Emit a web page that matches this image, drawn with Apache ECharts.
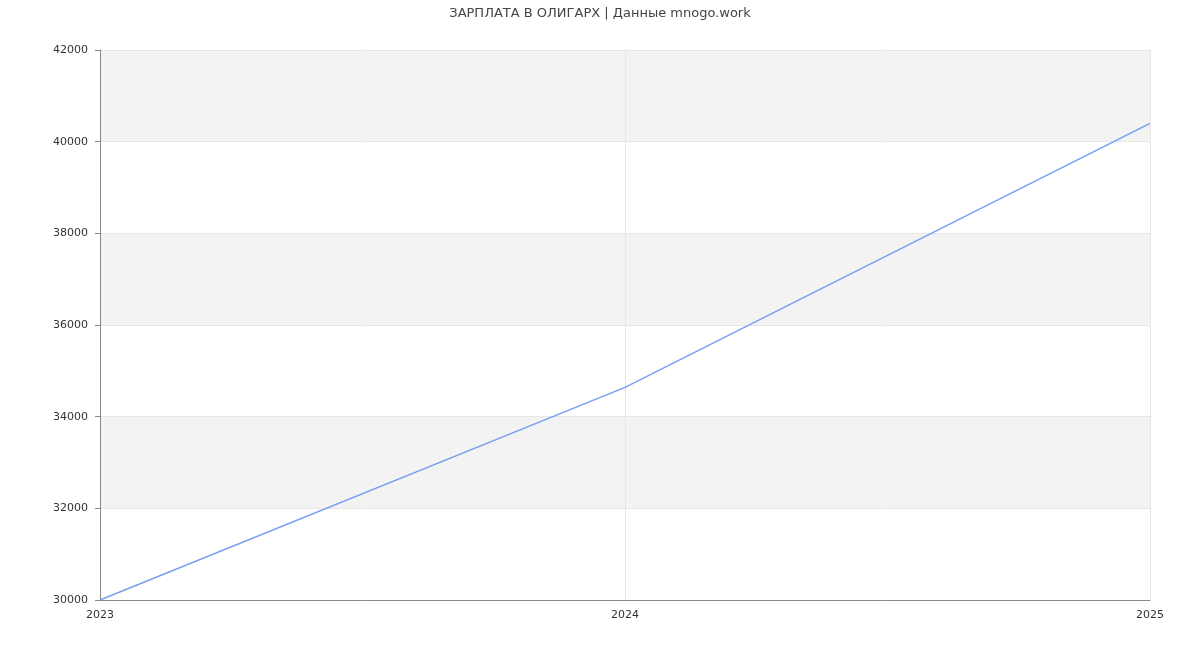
<!DOCTYPE html>
<html><head><meta charset="utf-8">
<script src="https://cdn.jsdelivr.net/npm/echarts@6/dist/echarts.min.js"></script>
<style>html,body{margin:0;padding:0;background:#fff}#c{width:1200px;height:650px}</style>
</head><body><div id="c"></div>
<script>
const titleText = 'ЗАРПЛАТА В ОЛИГАРХ | Данные mnogo.work';
const categories = ['2023', '2024', '2025'];
const salary = [30000, 34640, 40400];
const yTicks = {min: 30000, max: 42000, interval: 2000};

const chart = echarts.init(document.getElementById('c'));
chart.setOption({
  animation: false,
  textStyle: {fontFamily: 'DejaVu Sans'},
  title: {text: titleText, left: 'center', top: 2,
    textStyle: {fontSize: 13, fontWeight: 'normal', color: '#444', fontFamily: 'DejaVu Sans'}},
  grid: {left: 100, right: 50, top: 50, bottom: 50},
  xAxis: {type: 'category', data: categories, boundaryGap: false,
    axisLine: {lineStyle: {color: '#888'}},
    axisTick: {show: false},
    axisLabel: {color: '#333', fontSize: 11, margin: 10,
      formatter: function(v){return v;}},
    splitLine: {show: true, lineStyle: {color: '#e6e6e6'}}},
  yAxis: {type: 'value', min: yTicks.min, max: yTicks.max, interval: yTicks.interval,
    axisLine: {show: true, lineStyle: {color: '#888'}},
    axisTick: {show: true, length: 5, lineStyle: {color: '#888'}},
    axisLabel: {color: '#333', fontSize: 11, margin: 12,
      formatter: function(v){return String(v);}},
    splitLine: {show: true, lineStyle: {color: '#e6e6e6'}},
    splitArea: {show: true, areaStyle: {color: ['#ffffff', '#f3f3f3']}}},
  series: [{type: 'line', data: salary, symbol: 'none',
    lineStyle: {color: '#779ff0', width: 1.5}, itemStyle: {color: '#779ff0'}}]
});
</script></body></html>
